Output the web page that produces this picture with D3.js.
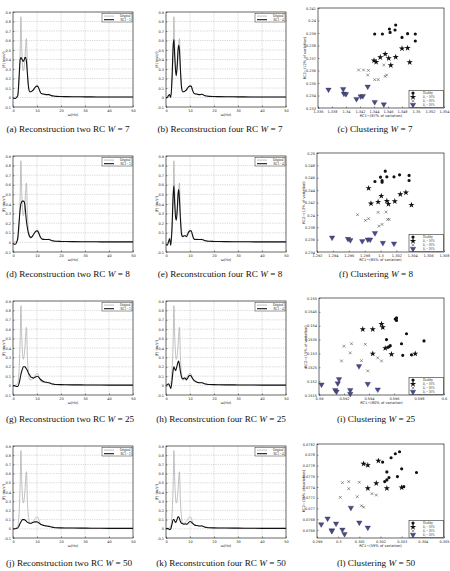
<!DOCTYPE html>
<html>
<head>
<meta charset="utf-8">
<script src="https://cdn.jsdelivr.net/npm/d3@7"></script>
<style>
  body { margin: 0; background: #fff; }
  svg { display: block; }
</style>
</head>
<body>
<div id="fig"></div>
<script>
//------------------------------------------------------------------------ Data
// spectrum frequency grid (Hz) and the original spectrum
var freq = [0,0.5,1,1.5,2,2.5, 3,3.3,3.6, 4,4.3,4.7, 5,5.3,5.6, 6,6.5, 7,7.5, 8,8.5, 9,9.5, 10,10.5, 11,11.5,
            12,13,14,15,16,17,18, 20,22,25,30,35,40,45,50];
var original = [0,0,0.005,0.01,0.03,0.15, 0.5,0.85,0.55, 0.33,0.28,0.33, 0.42,0.55,0.62, 0.3,0.12, 0.06,0.06, 0.07,0.08, 0.1,0.12, 0.13,0.12, 0.08,0.05,
            0.04,0.035,0.03,0.035,0.02,0.015,0.012, 0.01,0.009,0.008,0.007,0.006,0.005,0.005,0.005];

// reconstructions
var rcTwoW7 = [0,-0.01,-0.01,0,0.02,0.2, 0.4,0.42,0.41, 0.39,0.38,0.4, 0.42,0.42,0.38, 0.25,0.1, 0.06,0.06, 0.07,0.08, 0.1,0.115, 0.12,0.11, 0.08,0.05,
            0.04,0.035,0.03,0.03,0.02,0.015,0.012, 0.01,0.009,0.008,0.007,0.006,0.005,0.005,0.005];
var rcFourW7 = [0,0,0.02,0.03,0,0.2, 0.55,0.61,0.45, 0.28,0.23,0.35, 0.5,0.55,0.5, 0.3,0.1, 0.06,0.06, 0.07,0.08, 0.1,0.115, 0.12,0.12, 0.08,0.05,
            0.04,0.035,0.03,0.035,0.02,0.015,0.012, 0.01,0.009,0.008,0.007,0.006,0.005,0.005,0.005];
var rcTwoW8 = [-0.01,-0.02,-0.02,0,0.05,0.2, 0.35,0.4,0.42, 0.43,0.43,0.42, 0.38,0.3,0.22, 0.15,0.09, 0.06,0.05, 0.06,0.08, 0.1,0.115, 0.12,0.11, 0.08,0.05,
            0.035,0.03,0.03,0.03,0.02,0.015,0.012, 0.01,0.009,0.008,0.007,0.006,0.005,0.005,0.005];
var rcFourW8 = [-0.02,-0.03,0,0.04,-0.03,0.15, 0.5,0.59,0.42, 0.26,0.23,0.35, 0.5,0.55,0.45, 0.25,0.08, 0.06,0.07, 0.07,0.06, 0.08,0.11, 0.12,0.12, 0.08,0.04,
            0.03,0.03,0.03,0.03,0.02,0.015,0.012, 0.01,0.009,0.008,0.007,0.006,0.005,0.005,0.005];
var rcTwoW25 = [0,0,-0.005,-0.01,-0.01,0.02, 0.08,0.12,0.15, 0.18,0.2,0.2, 0.2,0.19,0.18, 0.16,0.13, 0.11,0.09, 0.085,0.08, 0.085,0.095, 0.1,0.095, 0.08,0.065,
            0.055,0.04,0.035,0.03,0.02,0.015,0.012, 0.01,0.009,0.008,0.007,0.006,0.005,0.005,0.005];
var rcFourW25 = [0,0.01,0.02,0,-0.03,0.05, 0.17,0.2,0.18, 0.16,0.18,0.22, 0.25,0.26,0.22, 0.15,0.09, 0.07,0.08, 0.08,0.06, 0.08,0.1, 0.11,0.1, 0.08,0.06,
            0.05,0.035,0.03,0.03,0.02,0.015,0.012, 0.01,0.009,0.008,0.007,0.006,0.005,0.005,0.005];
var rcTwoW50 = [0,0,0,0.005,0.01,0.03, 0.06,0.075,0.09, 0.1,0.1,0.1, 0.095,0.09,0.08, 0.07,0.065, 0.06,0.06, 0.065,0.07, 0.075,0.075, 0.075,0.07, 0.06,0.05,
            0.045,0.035,0.03,0.025,0.02,0.015,0.012, 0.01,0.009,0.008,0.007,0.006,0.005,0.005,0.005];
var rcFourW50 = [0,0.005,0,-0.01,0,0.05, 0.1,0.1,0.085, 0.07,0.08,0.11, 0.13,0.13,0.11, 0.08,0.06, 0.055,0.05, 0.055,0.05, 0.055,0.07, 0.08,0.075, 0.06,0.05,
            0.04,0.035,0.03,0.03,0.02,0.015,0.012, 0.01,0.009,0.008,0.007,0.006,0.005,0.005,0.005];

var specXTicks = [0,10,20,30,40,50];
var specYTicks = [-0.1,0,0.1,0.2,0.3,0.4,0.5,0.6,0.7,0.8,0.9];

// clustering W = 7
var w7Healthy = [[1.3471,0.23964],[1.3470,0.23924],[1.3462,0.23932],[1.3463,0.23905],[1.3452,0.23892],[1.3441,0.23892],
                 [1.3480,0.23865],[1.3488,0.23895],[1.3499,0.23892],[1.3499,0.23836]];
var w7D10 = [[1.3440,0.23679],[1.3443,0.23668],[1.3449,0.23705],[1.3456,0.23732],[1.3461,0.23697],[1.3464,0.23641],
             [1.3471,0.23708],[1.3480,0.23775],[1.3488,0.23780],[1.3491,0.23665]];
var w7D20 = [[1.3418,0.23604],[1.3425,0.23604],[1.3432,0.23601],[1.3431,0.23564],[1.3441,0.23527],[1.3446,0.23527],
             [1.3454,0.23644],[1.3456,0.23553],[1.3458,0.23564]];
var w7D30 = [[1.3375,0.23447],[1.3396,0.23452],[1.3397,0.23415],[1.3400,0.23412],[1.3415,0.23372],[1.3421,0.23393],
             [1.3424,0.23396],[1.3431,0.23471],[1.3441,0.23348],[1.3454,0.23329]];
var w7XTicks = [1.336,1.338,1.34,1.342,1.344,1.346,1.348,1.35,1.352,1.354];
var w7YTicks = [0.233,0.234,0.235,0.236,0.237,0.238,0.239,0.24,0.241];

// clustering W = 8
var w8Healthy = [[1.2993,0.24539],[1.3000,0.24610],[1.3002,0.24528],[1.3002,0.24556],[1.3006,0.24707],[1.3008,0.24615],
                 [1.3017,0.24615],[1.3024,0.24648],[1.3036,0.24637],[1.3036,0.24556]];
var w8D10 = [[1.2985,0.24431],[1.2988,0.24182],[1.2997,0.24209],[1.3001,0.24306],[1.3008,0.24225],[1.3010,0.24176],
             [1.3018,0.24220],[1.3025,0.24333],[1.3032,0.24360],[1.3039,0.24160]];
var w8D20 = [[1.2971,0.24003],[1.2981,0.23911],[1.2985,0.23938],[1.2997,0.24041],[1.2998,0.23818],[1.3002,0.23846],
             [1.3007,0.24046],[1.3009,0.23927],[1.3011,0.23927]];
var w8D30 = [[1.2939,0.23634],[1.2959,0.23612],[1.2962,0.23591],[1.2977,0.23575],[1.2984,0.23602],[1.2987,0.23602],
             [1.2993,0.23705],[1.3003,0.23547],[1.3017,0.23537]];
var w8XTicks = [1.292,1.294,1.296,1.298,1.3,1.302,1.304,1.306,1.308];
var w8YTicks = [0.234,0.236,0.238,0.24,0.242,0.244,0.246,0.248,0.25];

// clustering W = 25
var w25Healthy = [[0.5954,0.15350],[0.5955,0.15322],[0.5956,0.15324],[0.5957,0.15328],[0.5961,0.15424],[0.5962,0.15428],
                  [0.5962,0.15419],[0.5970,0.15371],[0.5966,0.15335],[0.5967,0.15293],[0.5974,0.15295],[0.5984,0.15345]];
var w25D10 = [[0.5935,0.15387],[0.5943,0.15387],[0.5950,0.15406],[0.5951,0.15394],[0.5943,0.15299],[0.5953,0.15319],
              [0.5958,0.15297],[0.5977,0.15299]];
var w25D20 = [[0.5920,0.15326],[0.5918,0.15273],[0.5926,0.15335],[0.5925,0.15302],[0.5937,0.15333],[0.5934,0.15274],
              [0.5939,0.15237],[0.5947,0.15284],[0.5950,0.15273]];
var w25D30 = [[0.5902,0.15188],[0.5913,0.15168],[0.5914,0.15162],[0.5915,0.15192],[0.5916,0.15207],[0.5925,0.15168],
              [0.5925,0.15154],[0.5932,0.15254],[0.5939,0.15190],[0.5947,0.15170]];
var w25XTicks = [0.59,0.592,0.594,0.596,0.598,0.6];
var w25YTicks = [0.1515,0.152,0.1525,0.153,0.1535,0.154,0.1545,0.155];

// clustering W = 50
var w50Healthy = [[0.3021,0.077863],[0.3025,0.077944],[0.3027,0.078019],[0.3029,0.078056],[0.3030,0.077738],[0.3023,0.077681],
                  [0.3022,0.077500],[0.3023,0.077531],[0.3024,0.077575],[0.3028,0.077594],[0.3031,0.077406],[0.3037,0.077669]];
var w50D10 = [[0.3012,0.077831],[0.3014,0.077806],[0.3019,0.077888],[0.3018,0.077469],[0.3014,0.077375],[0.3023,0.077375],
              [0.3030,0.077388]];
var w50D20 = [[0.3002,0.077481],[0.3005,0.077500],[0.3005,0.077369],[0.3010,0.077488],[0.3001,0.077206],[0.3009,0.077219],
              [0.3011,0.077050],[0.3012,0.077025],[0.3016,0.077275],[0.3018,0.077250]];
var w50D30 = [[0.2992,0.076706],[0.2995,0.076813],[0.2997,0.076594],[0.2997,0.076581],[0.2999,0.076719],[0.3002,0.076606],
              [0.3003,0.076525],[0.3006,0.077013],[0.3010,0.076738],[0.3014,0.076644]];
var w50XTicks = [0.299,0.3,0.301,0.302,0.303,0.304,0.305];
var w50YTicks = [0.0766,0.0768,0.077,0.0772,0.0774,0.0776,0.0778,0.078,0.0782];

var groupNames = ["Healthy", "\u03b4\u2081 = 10%", "\u03b4\u2081 = 20%", "\u03b4\u2081 = 30%"];

//------------------------------------------------------------------------ Setup
var W = 450, H = 571;
var tickFont = 3.5;
var colOrig = "#b0b0b0", colRc = "#111", colTri = "#4a4a90";

var svg = d3.select("#fig").append("svg").attr("width", W).attr("height", H)
  .style("font-family", "'DejaVu Sans', sans-serif");

function trimNum(v){ return String(+v.toFixed(5)); }

function frameAndTicks(g, box, x, y, xt, yt, grid){
  if (grid){
    g.selectAll(".gx").data(xt.slice(1, -1)).enter().append("line")
      .attr("x1", x).attr("x2", x).attr("y1", box.y0).attr("y2", box.y1)
      .attr("stroke", "#888").attr("stroke-width", 0.45).attr("stroke-dasharray", "0.7,1.1");
    g.selectAll(".gy").data(yt.slice(1, -1)).enter().append("line")
      .attr("y1", y).attr("y2", y).attr("x1", box.x0).attr("x2", box.x1)
      .attr("stroke", "#888").attr("stroke-width", 0.45).attr("stroke-dasharray", "0.7,1.1");
  }
  var ax = g.append("g").attr("transform", "translate(0," + box.y1 + ")")
    .call(d3.axisBottom(x).tickValues(xt).tickSize(-1.5).tickPadding(2).tickFormat(trimNum));
  var ay = g.append("g").attr("transform", "translate(" + box.x0 + ",0)")
    .call(d3.axisLeft(y).tickValues(yt).tickSize(-1.5).tickPadding(2).tickFormat(trimNum));
  [ax, ay].forEach(function(a){
    a.select(".domain").remove();
    a.selectAll("line").attr("stroke", "#000").attr("stroke-width", 0.4);
    a.selectAll("text").attr("font-size", tickFont).attr("font-family", "'DejaVu Sans', sans-serif").attr("fill", "#222");
  });
  ax.selectAll("text").attr("dy", "0.9em");
  g.append("rect").attr("x", box.x0).attr("y", box.y0)
    .attr("width", box.x1 - box.x0).attr("height", box.y1 - box.y0)
    .attr("fill", "none").attr("stroke", "#000").attr("stroke-width", 0.6);
}

function axisLabels(g, box, xl, yl, yOff){
  g.append("text").attr("x", (box.x0 + box.x1) / 2).attr("y", box.y1 + 9)
    .attr("text-anchor", "middle").attr("font-size", 3.6).attr("fill", "#222").text(xl);
  g.append("text")
    .attr("transform", "translate(" + (box.x0 - yOff) + "," + ((box.y0 + box.y1) / 2) + ") rotate(-90)")
    .attr("text-anchor", "middle").attr("font-size", 3.6).attr("fill", "#222").text(yl);
}

//------------------------------------------------------------------------ Spectrum panels
function specPanel(box, rc, rcLabel){
  var g = svg.append("g");
  var x = d3.scaleLinear().domain([0, 50]).range([box.x0, box.x1]);
  var y = d3.scaleLinear().domain([-0.1, 0.9]).range([box.y1, box.y0]);
  frameAndTicks(g, box, x, y, specXTicks, specYTicks, true);
  axisLabels(g, box, "\u03c9(Hz)", "|F| (m/s\u00b2)", 8);

  var line = d3.line().x(function(d){ return x(d[0]); }).y(function(d){ return y(d[1]); })
    .curve(d3.curveMonotoneX);
  g.append("path").datum(d3.zip(freq, original)).attr("d", line)
    .attr("fill", "none").attr("stroke", colOrig).attr("stroke-width", 0.8);
  g.append("path").datum(d3.zip(freq, rc)).attr("d", line)
    .attr("fill", "none").attr("stroke", colRc).attr("stroke-width", 1.1);

  // legend
  var lx = box.x1 - 31, ly = box.y0 + 1.5;
  var lg = g.append("g").attr("transform", "translate(" + lx + "," + ly + ")");
  lg.append("rect").attr("width", 30).attr("height", 8.5)
    .attr("fill", "#fff").attr("stroke", "#000").attr("stroke-width", 0.4);
  [["Original", colOrig, 0.8], [rcLabel, colRc, 1.1]].forEach(function(e, i){
    lg.append("line").attr("x1", 2).attr("x2", 12).attr("y1", 2.6 + i * 3.6).attr("y2", 2.6 + i * 3.6)
      .attr("stroke", e[1]).attr("stroke-width", e[2]);
    lg.append("text").attr("x", 28.5).attr("y", 3.8 + i * 3.6).attr("text-anchor", "end")
      .attr("font-size", 3.2).attr("font-family", "'Liberation Serif', serif").attr("fill", "#222").text(e[0]);
  });
}

//------------------------------------------------------------------------ Clustering panels
var symStar = d3.symbol().type(d3.symbolStar).size(12);
var symCirc = d3.symbol().type(d3.symbolCircle).size(8);
var symX = d3.symbol().type(d3.symbolX || d3.symbolCross).size(6);
var symTri = d3.symbol().type(d3.symbolTriangle).size(13);

function drawMark(sel, kind){
  if (kind === 0) sel.append("path").attr("d", symCirc()).attr("fill", "#111");
  if (kind === 1) sel.append("path").attr("d", symStar()).attr("fill", "#111");
  if (kind === 2) sel.append("path").attr("d", symX()).attr("fill", "none").attr("stroke", "#333").attr("stroke-width", 0.5)
                    .attr("transform", d3.symbolX ? null : "rotate(45)");
  if (kind === 3) sel.append("path").attr("d", symTri()).attr("fill", colTri).attr("stroke", "#222").attr("stroke-width", 0.3)
                    .attr("transform", "rotate(180)");
}

function clusterPanel(box, groups, xt, yt, xl, yl){
  var g = svg.append("g");
  var x = d3.scaleLinear().domain([xt[0], xt[xt.length - 1]]).range([box.x0, box.x1]);
  var y = d3.scaleLinear().domain([yt[0] - (box.yPad || 0), yt[yt.length - 1]]).range([box.y1, box.y0]);
  frameAndTicks(g, box, x, y, xt, yt, false);
  axisLabels(g, box, xl, yl, 12);

  groups.forEach(function(pts, k){
    g.selectAll(".m" + k).data(pts).enter().append("g")
      .attr("transform", function(d){ return "translate(" + x(d[0]) + "," + y(d[1]) + ")"; })
      .each(function(){ drawMark(d3.select(this), k); });
  });

  // legend
  var lg = g.append("g").attr("transform", "translate(" + (box.x1 - 35) + "," + (box.y1 - 17.5) + ")");
  lg.append("rect").attr("width", 34.5).attr("height", 17)
    .attr("fill", "#fff").attr("stroke", "#000").attr("stroke-width", 0.5);
  groupNames.forEach(function(name, k){
    var row = lg.append("g").attr("transform", "translate(4," + (2.6 + k * 3.9) + ")");
    drawMark(row, k);
    lg.append("text").attr("x", 14).attr("y", 3.8 + k * 3.9)
      .attr("font-size", 3.1).attr("font-family", "'Liberation Serif', serif").attr("fill", "#222").text(name);
  });
}

//------------------------------------------------------------------------ Captions
function caption(cx, cy, pre, wVal){
  var t = svg.append("text").attr("x", cx).attr("y", cy).attr("text-anchor", "middle")
    .attr("font-family", "'Liberation Serif', 'DejaVu Serif', serif").attr("font-size", 9.2).attr("fill", "#111");
  t.append("tspan").text(pre + " ");
  t.append("tspan").attr("font-style", "italic").text("W");
  t.append("tspan").text(" = " + wVal);
}

//------------------------------------------------------------------------ Draw
specPanel({x0: 13, x1: 133, y0: 12, y1: 107}, rcTwoW7, "RC1 - 2");
specPanel({x0: 166, x1: 286, y0: 12, y1: 107}, rcFourW7, "RC1 - 4");
specPanel({x0: 13, x1: 133, y0: 156, y1: 252}, rcTwoW8, "RC1 - 2");
specPanel({x0: 166, x1: 286, y0: 156, y1: 252}, rcFourW8, "RC1 - 4");
specPanel({x0: 13, x1: 133, y0: 301, y1: 395}, rcTwoW25, "RC1 - 2");
specPanel({x0: 166, x1: 286, y0: 301, y1: 395}, rcFourW25, "RC1 - 4");
specPanel({x0: 13, x1: 133, y0: 446, y1: 538}, rcTwoW50, "RC1 - 2");
specPanel({x0: 166, x1: 286, y0: 446, y1: 538}, rcFourW50, "RC1 - 4");

clusterPanel({x0: 318, x1: 444, y0: 8, y1: 108}, [w7Healthy, w7D10, w7D20, w7D30], w7XTicks, w7YTicks,
  "RC1~(87% of variation)", "RC2~(12% of variation)");
clusterPanel({x0: 317, x1: 444, y0: 153, y1: 252}, [w8Healthy, w8D10, w8D20, w8D30], w8XTicks, w8YTicks,
  "RC1~(85% of variation)", "RC2~(13% of variation)");
clusterPanel({x0: 319, x1: 444, y0: 298, y1: 395}, [w25Healthy, w25D10, w25D20, w25D30], w25XTicks, w25YTicks,
  "RC1~(80% of variation)", "RC2~(15% of variation)");
clusterPanel({x0: 317, x1: 444, y0: 444, y1: 538, yPad: 0.00015}, [w50Healthy, w50D10, w50D20, w50D30], w50XTicks, w50YTicks,
  "RC1~(59% of variation)", "RC2~(35% of variation)");

caption(68, 132, "(a) Reconstruction two RC", 7);
caption(220, 132, "(b) Reconstruction four RC", 7);
caption(375, 132, "(c) Clustering", 7);
caption(68, 277, "(d) Reconstruction two RC", 8);
caption(220, 277, "(e) Reconstrcution four RC", 8);
caption(376, 277, "(f) Clustering", 8);
caption(70, 422, "(g) Reconstruction two RC", 25);
caption(221, 422, "(h) Reconstrcution four RC", 25);
caption(376, 422, "(i) Clustering", 25);
caption(69, 566, "(j) Reconstruction two RC", 50);
caption(221, 566, "(k) Reconstrcution four RC", 50);
caption(376, 566, "(l) Clustering", 50);
</script>
</body>
</html>
